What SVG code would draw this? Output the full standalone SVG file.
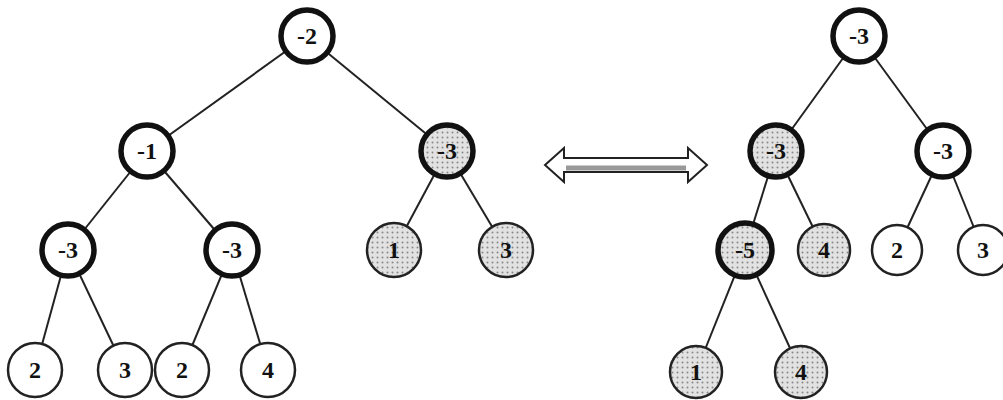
<svg xmlns="http://www.w3.org/2000/svg" width="1003" height="400" viewBox="0 0 1003 400">
<defs>
<pattern id="dots" width="5" height="5" patternUnits="userSpaceOnUse">
<rect width="5" height="5" fill="#e2e2e2"/>
<circle cx="2.5" cy="2.5" r="1" fill="#888"/>
</pattern>
<style>
.e{stroke:#222;stroke-width:2;fill:none}
.thick{stroke:#111;stroke-width:5.5}
.thin{stroke:#222;stroke-width:2.5}
.w{fill:#fff}
.s{fill:url(#dots)}
text{font-family:"Liberation Serif","Times New Roman",serif;font-weight:bold;font-size:24px;fill:#111;text-anchor:middle;dominant-baseline:central}
</style>
</defs>
<rect width="1003" height="400" fill="#fff"/>
<g id="connectors">
<line class="e" x1="307" y1="36" x2="147" y2="151"/>
<line class="e" x1="307" y1="36" x2="447" y2="151"/>
<line class="e" x1="147" y1="151" x2="68" y2="250"/>
<line class="e" x1="147" y1="151" x2="232" y2="250"/>
<line class="e" x1="447" y1="151" x2="394" y2="250"/>
<line class="e" x1="447" y1="151" x2="506" y2="250"/>
<line class="e" x1="68" y1="250" x2="35" y2="370"/>
<line class="e" x1="68" y1="250" x2="125" y2="370"/>
<line class="e" x1="232" y1="250" x2="182" y2="370"/>
<line class="e" x1="232" y1="250" x2="268" y2="370"/>
<line class="e" x1="859" y1="36" x2="776" y2="151"/>
<line class="e" x1="859" y1="36" x2="943" y2="151"/>
<line class="e" x1="776" y1="151" x2="745" y2="250"/>
<line class="e" x1="776" y1="151" x2="824" y2="250"/>
<line class="e" x1="943" y1="151" x2="897" y2="250"/>
<line class="e" x1="943" y1="151" x2="983" y2="250"/>
<line class="e" x1="745" y1="250" x2="696" y2="372"/>
<line class="e" x1="745" y1="250" x2="801" y2="372"/>
</g>
<g id="L-root"><circle class="thick w" cx="307" cy="36" r="26"/><text x="307" y="36">-2</text></g>
<g id="L-a"><circle class="thick w" cx="147" cy="151" r="26"/><text x="147" y="151">-1</text></g>
<g id="L-b"><circle class="thick s" cx="447" cy="151" r="26"/><text x="447" y="151">-3</text></g>
<g id="L-c"><circle class="thick w" cx="68" cy="250" r="26"/><text x="68" y="250">-3</text></g>
<g id="L-d"><circle class="thick w" cx="232" cy="250" r="26"/><text x="232" y="250">-3</text></g>
<g id="L-e"><circle class="thin s" cx="394" cy="250" r="27"/><text x="394" y="250">1</text></g>
<g id="L-f"><circle class="thin s" cx="506" cy="250" r="27"/><text x="506" y="250">3</text></g>
<g id="L-g"><circle class="thin w" cx="35" cy="370" r="27"/><text x="35" y="370">2</text></g>
<g id="L-h"><circle class="thin w" cx="125" cy="370" r="27"/><text x="125" y="370">3</text></g>
<g id="L-i"><circle class="thin w" cx="182" cy="370" r="27"/><text x="182" y="370">2</text></g>
<g id="L-j"><circle class="thin w" cx="268" cy="370" r="27"/><text x="268" y="370">4</text></g>
<g id="arrow">
<polygon points="545,165 564,148 564,158 688,158 688,148 707,165 688,182 688,172 564,172 564,182" fill="#fff" stroke="#222" stroke-width="2"/>
<line x1="566" y1="168" x2="686" y2="168" stroke="#999" stroke-width="5"/>
</g>
<g id="R-root"><circle class="thick w" cx="859" cy="36" r="26"/><text x="859" y="36">-3</text></g>
<g id="R-a"><circle class="thick s" cx="776" cy="151" r="26"/><text x="776" y="151">-3</text></g>
<g id="R-b"><circle class="thick w" cx="943" cy="151" r="26"/><text x="943" y="151">-3</text></g>
<g id="R-c"><circle class="thick s" cx="745" cy="250" r="27"/><text x="745" y="250">-5</text></g>
<g id="R-d"><circle class="thin s" cx="824" cy="250" r="26"/><text x="824" y="250">4</text></g>
<g id="R-e"><circle class="thin w" cx="897" cy="250" r="25"/><text x="897" y="250">2</text></g>
<g id="R-f"><circle class="thin w" cx="983" cy="250" r="25"/><text x="983" y="250">3</text></g>
<g id="R-g"><circle class="thin s" cx="696" cy="372" r="26"/><text x="696" y="372">1</text></g>
<g id="R-h"><circle class="thin s" cx="801" cy="372" r="26"/><text x="801" y="372">4</text></g>
</svg>
